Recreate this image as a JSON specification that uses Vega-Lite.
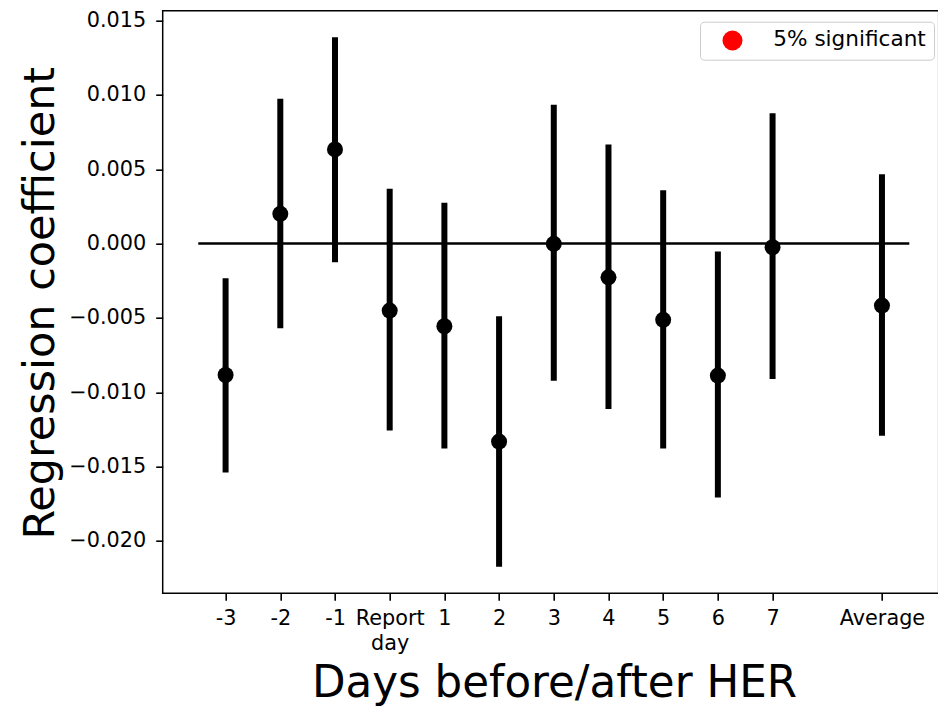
{
  "$schema": "https://vega.github.io/schema/vega-lite/v6.json",
  "width": 776,
  "height": 582.6,
  "autosize": "none",
  "padding": {"left": 162.7, "top": 10.7, "right": 0, "bottom": 115.4},
  "background": "white",
  "config": {
    "font": "DejaVu Sans",
    "view": {"stroke": "black", "strokeWidth": 1.5},
    "axis": {
      "grid": false,
      "domain": false,
      "ticks": true,
      "tickSize": 7,
      "tickWidth": 1.6,
      "tickColor": "black",
      "labelColor": "black",
      "labelFont": "DejaVu Sans",
      "labelFontSize": 20.8,
      "titleFont": "DejaVu Sans",
      "titleFontSize": 43,
      "titleFontWeight": "normal",
      "titleColor": "black",
      "labelFlush": false,
      "labelOverlap": false
    }
  },
  "datasets": {
    "coef": [
      {"pos": -3, "label": "-3", "coef": -0.00884, "lower": -0.01539, "upper": -0.00233, "significant": false},
      {"pos": -2, "label": "-2", "coef": 0.00200, "lower": -0.00570, "upper": 0.00974, "significant": false},
      {"pos": -1, "label": "-1", "coef": 0.00633, "lower": -0.00126, "upper": 0.01388, "significant": false},
      {"pos": 0, "label": "Report day", "coef": -0.00451, "lower": -0.01258, "upper": 0.00368, "significant": false},
      {"pos": 1, "label": "1", "coef": -0.00556, "lower": -0.01378, "upper": 0.00274, "significant": false},
      {"pos": 2, "label": "2", "coef": -0.01332, "lower": -0.02174, "upper": -0.00489, "significant": false},
      {"pos": 3, "label": "3", "coef": -0.00002, "lower": -0.00922, "upper": 0.00933, "significant": false},
      {"pos": 4, "label": "4", "coef": -0.00227, "lower": -0.01112, "upper": 0.00666, "significant": false},
      {"pos": 5, "label": "5", "coef": -0.00513, "lower": -0.01378, "upper": 0.00359, "significant": false},
      {"pos": 6, "label": "6", "coef": -0.00888, "lower": -0.01707, "upper": -0.00054, "significant": false},
      {"pos": 7, "label": "7", "coef": -0.00025, "lower": -0.00911, "upper": 0.00877, "significant": false},
      {"pos": 9, "label": "Average", "coef": -0.00417, "lower": -0.01292, "upper": 0.00466, "significant": false}
    ],
    "zero": [{"start": -3.5, "end": 9.5, "level": 0}]
  },
  "layer": [
    {
      "data": {"name": "zero"},
      "mark": {"type": "rule", "color": "black", "strokeWidth": 2.5},
      "encoding": {
        "x": {
          "field": "start",
          "type": "quantitative",
          "scale": {"domain": [-4.15, 10.037], "nice": false, "zero": false},
          "axis": {
            "values": [-3, -2, -1, 0, 1, 2, 3, 4, 5, 6, 7, 9],
            "labelExpr": "datum.value == 0 ? ['Report', 'day'] : datum.value == 9 ? 'Average' : toString(datum.value)",
            "labelPadding": 8.4,
            "labelLineHeight": 25,
            "title": "Days before/after HER",
            "titleFontSize": 43.6,
            "titleX": 391.3,
            "titleY": 103.4,
            "titleAlign": "center",
            "titleBaseline": "alphabetic"
          }
        },
        "x2": {"field": "end"},
        "y": {
          "field": "level",
          "type": "quantitative",
          "scale": {"domain": [-0.02352, 0.01566], "nice": false, "zero": false},
          "axis": {
            "values": [-0.02, -0.015, -0.01, -0.005, 0, 0.005, 0.01, 0.015],
            "format": ".3f",
            "labelPadding": 10,
            "title": "Regression coefficient",
            "titleAngle": -90,
            "titleX": -109.7,
            "titleY": 292,
            "titleAlign": "center",
            "titleBaseline": "alphabetic"
          }
        }
      }
    },
    {
      "data": {"name": "coef"},
      "mark": {"type": "rule", "color": "black", "strokeWidth": 6},
      "encoding": {
        "x": {"field": "pos", "type": "quantitative"},
        "y": {"field": "lower", "type": "quantitative"},
        "y2": {"field": "upper"}
      }
    },
    {
      "data": {"name": "coef"},
      "mark": {"type": "point", "shape": "circle", "filled": true, "color": "black", "opacity": 1, "size": 256},
      "encoding": {
        "x": {"field": "pos", "type": "quantitative"},
        "y": {"field": "coef", "type": "quantitative"}
      }
    },
    {
      "data": {"name": "coef"},
      "transform": [{"filter": "datum.significant"}],
      "mark": {"type": "point", "shape": "circle", "filled": true, "opacity": 1, "size": 256},
      "encoding": {
        "x": {"field": "pos", "type": "quantitative"},
        "y": {"field": "coef", "type": "quantitative"},
        "color": {
          "datum": "5% significant",
          "scale": {"range": ["red"]},
          "legend": {
            "title": null,
            "orient": "none",
            "legendX": 537.3,
            "legendY": 11,
            "padding": 8,
            "fillColor": "white",
            "strokeColor": "#cccccc",
            "cornerRadius": 4,
            "symbolType": "circle",
            "symbolSize": 400,
            "symbolOpacity": 1,
            "symbolStrokeWidth": 0,
            "symbolOffset": 13.7,
            "labelOffset": 30,
            "labelFont": "DejaVu Sans",
            "labelFontSize": 21.6,
            "labelColor": "black"
          }
        }
      }
    }
  ]
}
